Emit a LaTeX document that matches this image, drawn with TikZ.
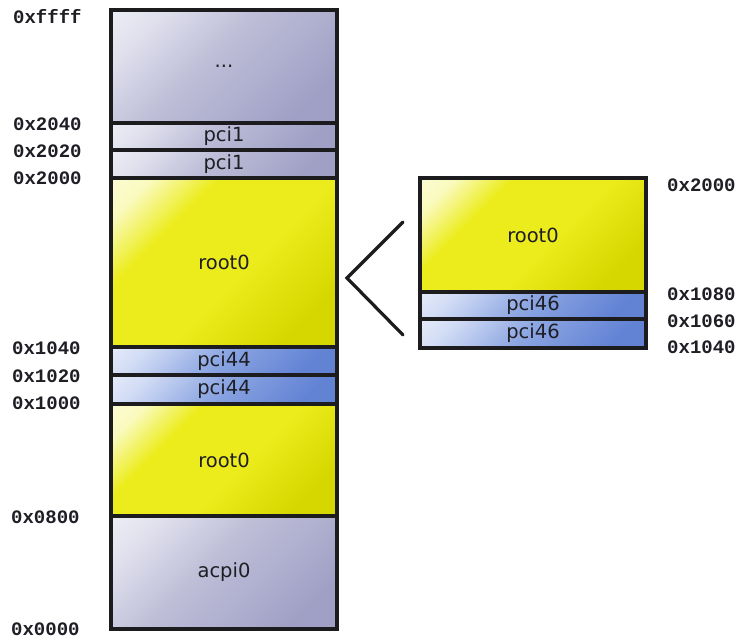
\documentclass[tikz,border=0pt]{standalone}
\usepackage{fontspec}
\setmainfont{DejaVu Sans}
\newfontfamily\monof{Liberation Mono}
\definecolor{edge}{RGB}{28,28,30}
\definecolor{txt}{RGB}{30,30,36}
\definecolor{gA}{RGB}{160,160,198}
\definecolor{gB}{RGB}{190,190,216}
\definecolor{gC}{RGB}{225,225,238}
\definecolor{yA}{RGB}{214,214,0}
\definecolor{yB}{RGB}{236,236,28}
\definecolor{yC}{RGB}{250,250,190}
\definecolor{bA}{RGB}{98,130,212}
\definecolor{bB}{RGB}{140,166,226}
\definecolor{bC}{RGB}{210,220,245}
\pgfdeclareverticalshading{gshade}{100bp}{color(0bp)=(gA); color(25bp)=(gA); color(55bp)=(gB); color(75bp)=(gC); color(100bp)=(white)}
\pgfdeclareverticalshading{yshade}{100bp}{color(0bp)=(yA); color(25bp)=(yA); color(45bp)=(yB); color(66bp)=(yB); color(78bp)=(yC); color(100bp)=(white)}
\pgfdeclareverticalshading{bshade}{100bp}{color(0bp)=(bA); color(25bp)=(bA); color(52bp)=(bB); color(75bp)=(bC); color(100bp)=(white)}
\tikzset{
  mbox/.style={rectangle, draw=edge, line width=3.2bp, inner sep=0pt, outer sep=0pt,
    anchor=north west, minimum width=#1, shade, shading angle=45,
    font=\fontsize{19.5bp}{21bp}\selectfont, text=txt},
  gbox/.style={mbox=226bp, shading=gshade},
  ybox/.style={mbox=226bp, shading=yshade},
  bbox/.style={mbox=226bp, shading=bshade},
  addr/.style={anchor=west, inner sep=0pt, font=\monof\bfseries\fontsize{19bp}{20bp}\selectfont, text=txt},
  chev/.style={draw=edge, line width=3.2bp, line cap=round, line join=miter}
}
\begin{document}
\begin{tikzpicture}[x=1bp,y=-1bp]
\useasboundingbox (0,0) rectangle (738,640);
% left column
\node[gbox, minimum height=113bp] (dots) at (111,10) {...};
\node[gbox, minimum height=27bp] (pcia) at (111,123) {pci1};
\node[gbox, minimum height=28bp] (pcib) at (111,150) {pci1};
\node[ybox, minimum height=169bp] (rootA) at (111,178) {root0};
\node[bbox, minimum height=28bp] (pcic) at (111,347) {pci44};
\node[bbox, minimum height=29bp] (pcid) at (111,375) {pci44};
\node[ybox, minimum height=112bp] (rootB) at (111,404) {root0};
\node[gbox, minimum height=113bp] (acpi) at (111,516) {acpi0};
% right column
\node[ybox, minimum height=114bp] (rootC) at (420,178) {root0};
\node[bbox, minimum height=27bp] (pcie) at (420,292) {pci46};
\node[bbox, minimum height=29bp] (pcif) at (420,319) {pci46};
% left addresses
\node[addr] (l0) at (13,17) {0xffff};
\node[addr] (l1) at (13,124) {0x2040};
\node[addr] (l2) at (13,151) {0x2020};
\node[addr] (l3) at (13,178) {0x2000};
\node[addr] (l4) at (12,348) {0x1040};
\node[addr] (l5) at (12,376) {0x1020};
\node[addr] (l6) at (12,403) {0x1000};
\node[addr] (l7) at (11,517) {0x0800};
\node[addr] (l8) at (11,629) {0x0000};
% right addresses
\node[addr] (r1) at (667,185) {0x2000};
\node[addr] (r2) at (667,294) {0x1080};
\node[addr] (r3) at (667,321) {0x1060};
\node[addr] (r4) at (667,347) {0x1040};
% chevron
\coordinate (ct) at (403,222);
\coordinate (cv) at (347,278);
\coordinate (cb) at (403,335);
\draw[chev] (ct) -- (cv) -- (cb);
\end{tikzpicture}
\end{document}
